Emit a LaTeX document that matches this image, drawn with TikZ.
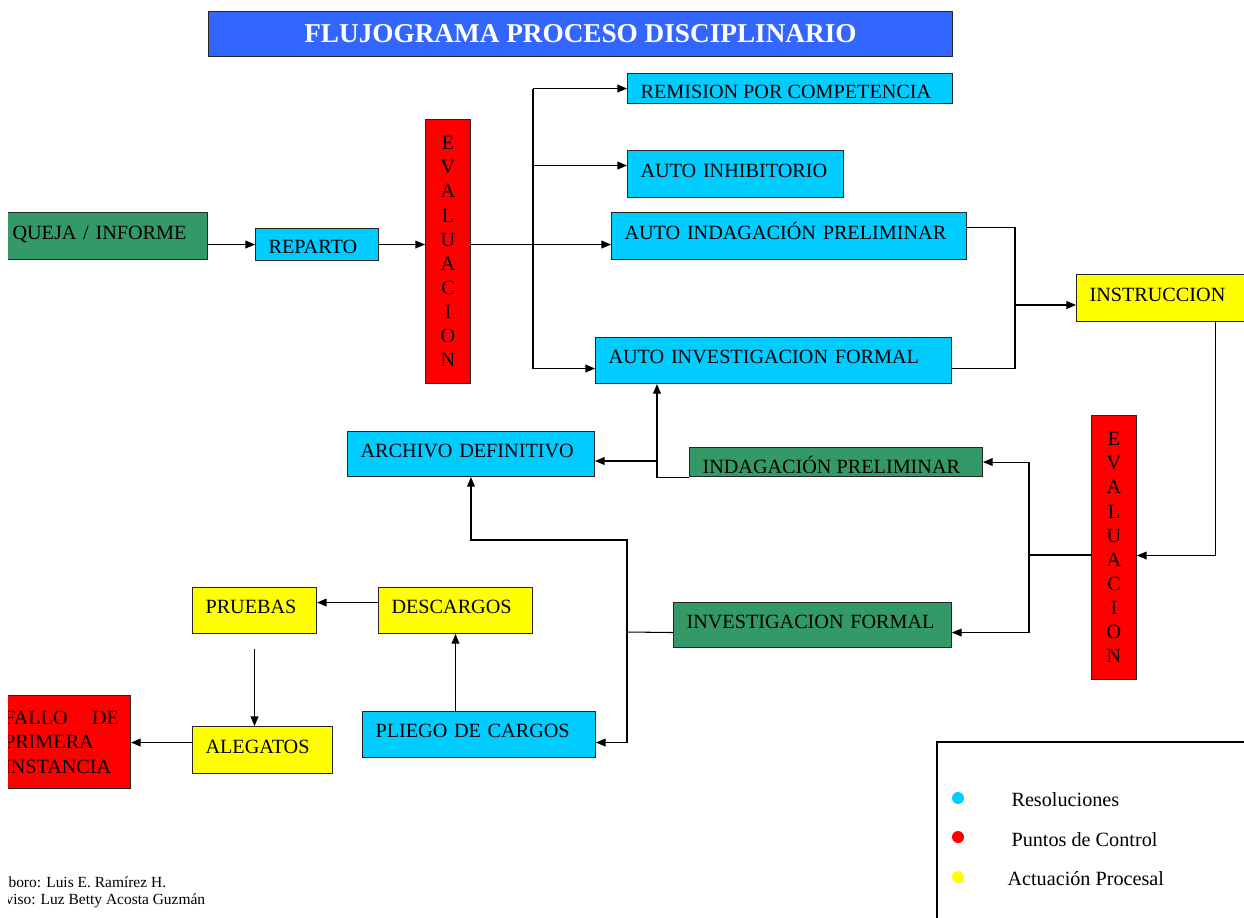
\documentclass[tikz,border=0pt]{standalone}
\usepackage{fontspec}
\setmainfont{Liberation Serif}
\usetikzlibrary{arrows.meta}
\definecolor{resol}{HTML}{00CCFF}
\definecolor{verde}{HTML}{339966}
\definecolor{amarillo}{HTML}{FFFF00}
\definecolor{rojo}{HTML}{FF0000}
\definecolor{azul}{HTML}{3366FF}

\begin{document}
\begin{tikzpicture}[x=0.02cm,y=-0.02cm,line width=0.6pt,
                    >={Triangle[length=5.5pt,width=4.5pt]}]
  \tikzstyle{caja}=[draw=black!85,anchor=north west,inner xsep=0.26cm,inner ysep=0pt,
                    align=left,font=\fontsize{11.5}{13.8}\selectfont]
  \tikzstyle{box}=[caja,text height=0.3cm,text depth=0.175cm]
  \tikzstyle{eval}=[draw=black!85,fill=rojo,anchor=north west,align=center,
                    minimum width=0.9cm,minimum height=5.28cm,inner sep=0pt,
                    font=\fontsize{11.5}{13.7}\selectfont]
  \tikzstyle{ley}=[anchor=west,inner sep=0pt,font=\fontsize{11.5}{13.8}\selectfont]

  \useasboundingbox (0,0) rectangle (1244,917);
  \clip (8,0) rectangle (1244,917);

  \node[draw=black!85,fill=azul,anchor=north west,minimum width=14.88cm,minimum height=0.9cm,
        text=white,font=\bfseries\fontsize{15.5}{18}\selectfont] (titulo) at (208,11)
        {FLUJOGRAMA PROCESO DISCIPLINARIO};

  \node[box,fill=verde,inner xsep=0.16cm,text width=3.74cm,minimum height=0.94cm] (queja) at (4,212) {QUEJA / INFORME};
  \node[box,fill=resol,text width=1.94cm,minimum height=0.64cm,text height=0.4cm,text depth=0.035cm] (reparto) at (255,228) {REPARTO};
  \node[eval] (eval1) at (425,119) {E\\V\\A\\L\\U\\A\\C\\I\\O\\N};

  \node[caja,fill=resol,minimum width=6.5cm,minimum height=0.6cm,inner sep=0pt] (remision) at (627,73) {};
  \node[box,fill=resol,text width=3.8cm,minimum height=0.94cm] (inhib) at (627,150) {AUTO INHIBITORIO};
  \node[box,fill=resol,text width=6.58cm,minimum height=0.94cm] (aip) at (611,212) {AUTO INDAGACIÓN PRELIMINAR};
  \node[box,fill=resol,text width=6.6cm,minimum height=0.92cm] (aif) at (595,337) {AUTO INVESTIGACION FORMAL};
  \node[box,fill=amarillo,text width=5.04cm,minimum height=0.94cm] (instr) at (1076,274) {INSTRUCCION};

  \node[box,fill=resol,text width=4.42cm,minimum height=0.9cm] (archivo) at (347,431) {ARCHIVO DEFINITIVO};
  \node[caja,fill=verde,minimum width=5.86cm,minimum height=0.58cm,inner sep=0pt] (ip) at (689,447) {};
  \node[eval] (eval2) at (1091,415) {E\\V\\A\\L\\U\\A\\C\\I\\O\\N};
  \node[box,fill=verde,text width=5.04cm,minimum height=0.9cm] (invf) at (673,602) {INVESTIGACION FORMAL};

  \node[box,fill=amarillo,text width=1.96cm,minimum height=0.92cm] (pruebas) at (192,587) {PRUEBAS};
  \node[box,fill=amarillo,text width=2.56cm,minimum height=0.92cm] (descargos) at (378,587) {DESCARGOS};
  \node[box,fill=resol,text width=4.14cm,minimum height=0.92cm] (pliego) at (362,711) {PLIEGO DE CARGOS};
  \node[box,fill=amarillo,text width=2.28cm,minimum height=0.94cm] (alegatos) at (192,726) {ALEGATOS};
  \node[caja,fill=rojo,inner xsep=0.23cm,text width=2.3cm,minimum height=1.86cm,
        font=\fontsize{11.5}{13.9}\selectfont] (fallo) at (-8,695)
        {FALLO\hskip 0pt plus 1filll DE\\PRIMERA\\INSTANCIA\\[0.12cm]};

  % textos recortados
  \begin{scope}
    \clip (remision.north west) rectangle ([yshift=0.12cm]remision.south east);
    \node[ley,anchor=base west] (remtxt) at (640,98.4) {REMISION POR COMPETENCIA};
  \end{scope}
  \begin{scope}
    \clip (ip.north west) rectangle ([yshift=0.1cm]ip.south east);
    \node[ley,anchor=base west] (iptxt) at (702,473.4) {INDAGACIÓN PRELIMINAR};
  \end{scope}

  % conectores
  \coordinate (fork) at (533,244);
  \coordinate (inhw) at ([yshift=0.17cm]inhib.west);
  \coordinate (aifw) at ([yshift=-0.16cm]aif.west);
  \coordinate (aipe) at ([yshift=0.17cm]aip.east);
  \coordinate (aife) at ([yshift=-0.16cm]aif.east);
  \coordinate (merge) at (1015,305);
  \coordinate (e2e) at ([yshift=-0.16cm]eval2.east);
  \coordinate (split) at (1029,555);
  \coordinate (invfe) at ([yshift=-0.15cm]invf.east);
  \coordinate (down) at (627,632);
  \coordinate (up) at (627,540);
  \coordinate (pliegoe) at ([yshift=-0.16cm]pliego.east);
  \coordinate (dw) at ([yshift=0.16cm]descargos.west);
  \coordinate (aw) at ([yshift=0.15cm]alegatos.west);
  \coordinate (ipx) at (657,461);

  \draw[->] (reparto.west -| queja.east) -- (reparto.west);
  \draw[->] (reparto.east) -- (reparto.east -| eval1.west);
  \draw[->] (eval1.east |- reparto.east) -- (aip.west |- reparto.east);
  \draw (fork |- remision.west) -- (fork |- aifw);
  \draw[->] (fork |- remision.west) -- (remision.west);
  \draw[->] (fork |- inhw) -- (inhw);
  \draw[->] (fork |- aifw) -- (aifw);

  \draw (aipe) -| (merge |- aife) -- (aife);
  \draw[->] (merge) -- (merge -| instr.west);
  \draw[->] (instr.south) |- (e2e);

  \draw (eval2.west |- split) -- (split);
  \draw[->] (split) |- (ip.east);
  \draw[->] (split) |- (invfe);

  \draw[->] (ip.south west) -| (ipx |- aif.south);
  \draw[->] (ipx) -- (ipx -| archivo.east);

  \draw ([yshift=-0.15cm]invf.west) -- (down);
  \draw[->] (down) -- (up) -| (archivo.south);
  \draw[->] (down) |- (pliegoe);
  \draw[->] (descargos.south |- pliego.north) -- (descargos.south);
  \draw[->] (dw) -- (dw -| pruebas.east);
  \draw[->] ([yshift=-0.3cm]pruebas.south) -- (pruebas.south |- alegatos.north);
  \draw[->] (aw) -- (aw -| fallo.east);

  % leyenda
  \draw (937,742) rectangle (1260,930);
  \fill[resol] (958,798) circle (0.12cm);
  \fill[rojo] (958,837) circle (0.12cm);
  \fill[amarillo] (958,877) circle (0.12cm);
  \node[ley] (l1) at (1011,800) {Resoluciones};
  \node[ley] (l2) at (1011,840) {Puntos de Control};
  \node[ley] (l3) at (1007,879) {Actuación Procesal};

  \node[anchor=west,inner sep=0pt,font=\fontsize{8.8}{10}\selectfont] (elab) at (8,882) {boro: Luis E. Ramírez H.};
  \node[anchor=west,inner sep=0pt,font=\fontsize{8.8}{10}\selectfont] (rev) at (5,901) {viso: Luz Betty Acosta Guzmán};
\end{tikzpicture}
\end{document}
